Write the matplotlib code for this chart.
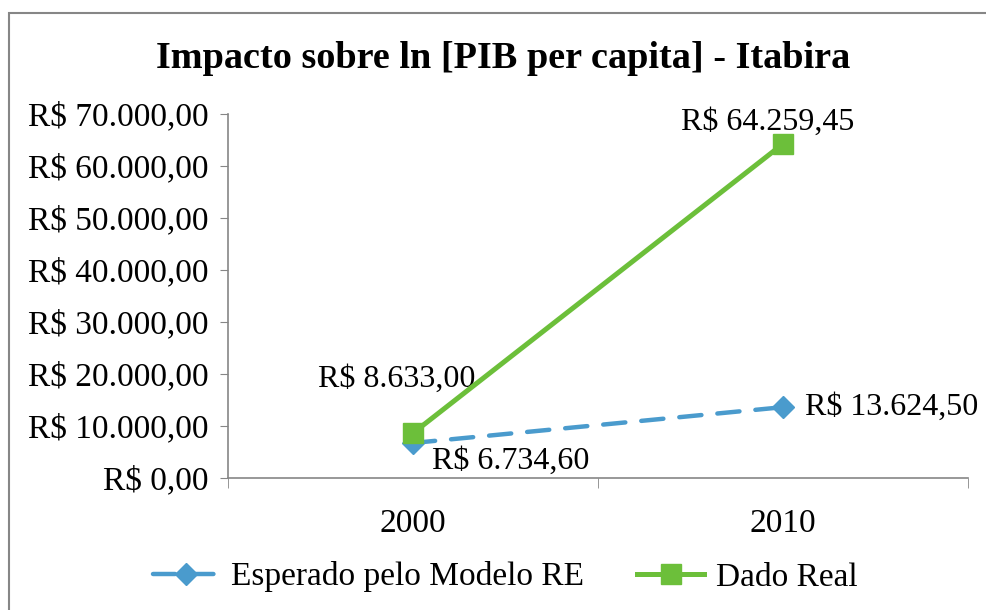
import matplotlib.pyplot as plt
from matplotlib.patches import Rectangle

# dados do gráfico
anos = ['2000', '2010']
esperado = [6734.60, 13624.50]
real = [8633.00, 64259.45]
rotulos_esperado = ['R$ 6.734,60', 'R$ 13.624,50']
rotulos_real = ['R$ 8.633,00', 'R$ 64.259,45']
yticks = [0, 10000, 20000, 30000, 40000, 50000, 60000, 70000]
ytick_labels = ['R$ 0,00', 'R$ 10.000,00', 'R$ 20.000,00', 'R$ 30.000,00',
                'R$ 40.000,00', 'R$ 50.000,00', 'R$ 60.000,00', 'R$ 70.000,00']

azul = '#4a9bcd'
verde = '#6cbf3a'

plt.rcParams['font.family'] = ['Liberation Serif', 'DejaVu Serif']

fig = plt.figure(figsize=(9.86, 6.10), dpi=100)
ax = fig.add_axes([228 / 986, 1 - 478 / 610, 740 / 986, 364 / 610])

x = list(range(len(anos)))
ax.plot(x, esperado, color=azul, lw=3.2, ls=(0, (5, 3.6)), marker='D', ms=11,
        dash_capstyle='round', label='Esperado pelo Modelo RE', zorder=3)
ax.plot(x, real, color=verde, lw=3.6, marker='s', ms=15,
        label='Dado Real', zorder=4)

# rótulos de dados
fs = 24
fs_rot = 23
ax.annotate(rotulos_real[0], (x[0], real[0]), xytext=(-16, 54), textcoords='offset pixels',
            ha='center', va='center', fontsize=fs_rot)
ax.annotate(rotulos_real[1], (x[1], real[1]), xytext=(-15, 22), textcoords='offset pixels',
            ha='center', va='center', fontsize=fs_rot)
ax.annotate(rotulos_esperado[0], (x[0], esperado[0]), xytext=(98, -18), textcoords='offset pixels',
            ha='center', va='center', fontsize=fs_rot)
ax.annotate(rotulos_esperado[1], (x[1], esperado[1]), xytext=(22, 0), textcoords='offset pixels',
            ha='left', va='center', fontsize=fs_rot)

ax.set_xlim(-0.5, 1.5)
ax.set_ylim(0, 70000)
ax.set_yticks(yticks)
ax.set_yticklabels(ytick_labels, fontsize=fs)
ax.set_xticks(x)
ax.set_xticklabels(anos, fontsize=fs)
ax.set_xticks([-0.5, 0.5, 1.5], minor=True)
ax.tick_params(axis='x', which='major', length=0, pad=22)
ax.tick_params(axis='x', which='minor', length=7, color='#868686', direction='out')
ax.tick_params(axis='y', length=6, color='#868686', direction='out', pad=8)
for s in ['top', 'right']:
    ax.spines[s].set_visible(False)
for s in ['left', 'bottom']:
    ax.spines[s].set_color('#868686')
    ax.spines[s].set_linewidth(1.2)

fig.text(503 / 986, 1 - 59 / 610, 'Impacto sobre ln [PIB per capita] - Itabira',
         ha='center', va='center', fontsize=27.5, fontweight='bold')

fig.legend(loc='center', bbox_to_anchor=(505 / 986, 1 - 577 / 610), ncol=2, frameon=False,
           fontsize=fs, handlelength=2.0, handletextpad=0.35, columnspacing=1.6)

# borda da área do gráfico
fig.patches.append(Rectangle((9, -20), 1200, 610 - 13 + 20, transform=None,
                             fill=False, edgecolor='#868686', lw=1.5))

fig.savefig('out.png', dpi=100)
